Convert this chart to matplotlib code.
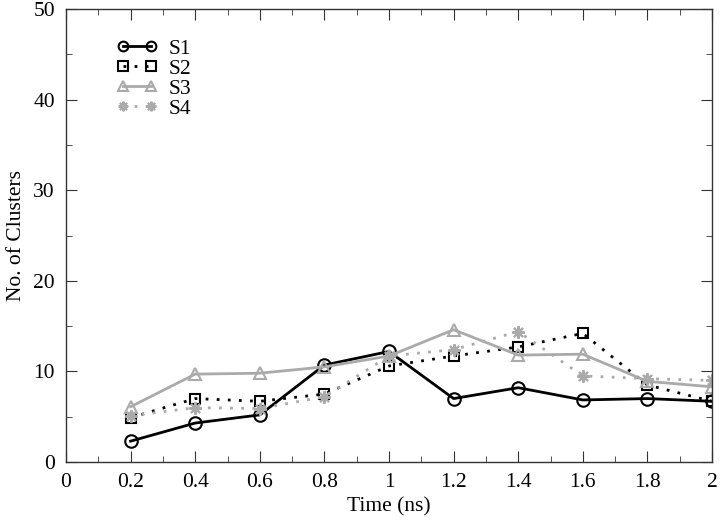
import matplotlib.pyplot as plt
from matplotlib.ticker import MultipleLocator

plt.rcParams['font.family'] = ['Liberation Serif', 'DejaVu Serif']

# time points (ns)
time_ns = [0.2, 0.4, 0.6, 0.8, 1.0, 1.2, 1.4, 1.6, 1.8, 2.0]

s1 = [2.3, 4.3, 5.2, 10.7, 12.2, 7.0, 8.2, 6.85, 7.0, 6.7]
s2 = [4.9, 7.0, 6.7, 7.5, 10.6, 11.7, 12.7, 14.2, 8.5, 6.7]
s3 = [6.1, 9.7, 9.8, 10.5, 11.7, 14.6, 11.8, 11.9, 8.9, 8.3]
s4 = [5.1, 6.0, 5.9, 7.2, 11.7, 12.4, 14.4, 9.5, 9.2, 9.0]

GRAY = '#aaaaaa'
AXC = '#333333'

fig = plt.figure(figsize=(7.2, 5.26), dpi=100)
ax = fig.add_axes([66 / 720, 1 - 462 / 526, 646 / 720, 453 / 526])

ax.plot(time_ns, s1, color='black', lw=2, ls='-', marker='o', ms=9,
        mfc='none', mew=1.5, label='S1')
ax.plot(time_ns, s2, color='black', lw=2, ls=(0, (1, 3)), marker='s', ms=7,
        mfc='none', mew=1.5, label='S2')
ax.plot(time_ns, s3, color=GRAY, lw=2, ls='-', marker='^', ms=8,
        mfc='none', mew=1.5, label='S3')
ax.plot(time_ns, s4, color=GRAY, lw=2, ls=(0, (1, 3)), marker=(8, 2, 0), ms=9,
        mew=1.5, label='S4')

ax.set_xlim(0, 2)
ax.set_ylim(0, 50)
ax.xaxis.set_major_locator(MultipleLocator(0.2))
ax.xaxis.set_minor_locator(MultipleLocator(0.1))
ax.yaxis.set_major_locator(MultipleLocator(10))
ax.yaxis.set_minor_locator(MultipleLocator(5))
ax.xaxis.set_major_formatter(plt.FuncFormatter(lambda v, p: f'{v:g}'))
ax.tick_params(which='both', direction='in', top=True, right=True,
               labelsize=15.5, color=AXC, pad=8)
ax.tick_params(which='major', length=8)
ax.tick_params(which='minor', length=4)
for sp in ax.spines.values():
    sp.set_linewidth(1)
    sp.set_color(AXC)

ax.set_xlabel('Time (ns)', fontsize=15.5, labelpad=4)
ax.set_ylabel('No. of Clusters', fontsize=15.5, labelpad=5)

leg = ax.legend(loc='upper left', bbox_to_anchor=(0.055, 0.968), frameon=False,
                fontsize=15.5, handlelength=1.9, handletextpad=0.5,
                labelspacing=0.0, borderaxespad=0.3, numpoints=2)
for h in leg.legend_handles:
    h.set_markersize(7)

fig.savefig('out.png', dpi=100)
